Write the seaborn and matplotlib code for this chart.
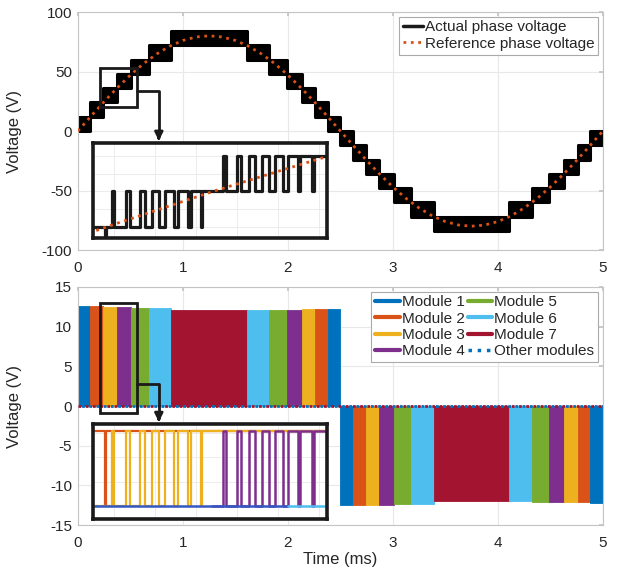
import matplotlib
matplotlib.use('Agg')
import matplotlib.pyplot as plt
from matplotlib.lines import Line2D
from matplotlib.patches import Rectangle
import seaborn as sns

sns.set_theme(style='white')
plt.rcParams['font.family'] = ['Liberation Sans', 'DejaVu Sans']
plt.rcParams['axes.unicode_minus'] = False

# ---- data ----
# staircase step boundaries (ms)
step_t = [0, 0.12, 0.24, 0.37, 0.51, 0.675, 0.89, 1.61, 1.825, 1.99, 2.13, 2.26, 2.38,
          2.5, 2.62, 2.74, 2.87, 3.01, 3.175, 3.39, 4.11, 4.325, 4.49, 4.63, 4.76, 4.88, 5.0]
# module that is switching in each step
step_module = [1, 2, 3, 4, 5, 6, 7, 6, 5, 4, 3, 2, 1,
               1, 2, 3, 4, 5, 6, 7, 6, 5, 4, 3, 2, 1]
# phase voltage band (V) the PWM toggles between in each step
phase_lo = [0, 12, 24, 36, 48, 60, 72, 60, 48, 36, 24, 12, 0,
            -12, -24, -36, -48, -60, -72, -84, -72, -60, -48, -36, -24, -12]
phase_hi = [12, 24, 36, 48, 60, 72, 84, 72, 60, 48, 36, 24, 12,
            0, -12, -24, -36, -48, -60, -72, -60, -48, -36, -24, -12, 0]
# module output voltage (V) in each step
module_v = [12.55, 12.55, 12.5, 12.45, 12.4, 12.3, 12.1, 12.15, 12.15, 12.15, 12.2, 12.2, 12.2,
            -12.5, -12.5, -12.45, -12.45, -12.4, -12.35, -12.0, -12.0, -12.1, -12.1, -12.15, -12.15, -12.2]

# reference phase voltage (V)
ref_t = [0, 0.125, 0.25, 0.375, 0.5, 0.625, 0.75, 0.875, 1.0, 1.125, 1.25, 1.375, 1.5, 1.625,
         1.75, 1.875, 2.0, 2.125, 2.25, 2.375, 2.5, 2.625, 2.75, 2.875, 3.0, 3.125, 3.25, 3.375,
         3.5, 3.625, 3.75, 3.875, 4.0, 4.125, 4.25, 4.375, 4.5, 4.625, 4.75, 4.875, 5.0]
ref_v = [0, 12.5, 24.7, 36.3, 47.0, 56.6, 64.7, 71.3, 76.1, 79.0, 80.0, 79.0, 76.1, 71.3,
         64.7, 56.6, 47.0, 36.3, 24.7, 12.5, 0, -12.5, -24.7, -36.3, -47.0, -56.6, -64.7, -71.3,
         -76.1, -79.0, -80.0, -79.0, -76.1, -71.3, -64.7, -56.6, -47.0, -36.3, -24.7, -12.5, 0]

# zoomed PWM detail of the phase voltage
pwm_t = [0.225, 0.2392, 0.2405, 0.2486, 0.2510, 0.2657, 0.2706, 0.2820, 0.2881, 0.2974,
         0.3056, 0.3129, 0.3231, 0.3284, 0.3406, 0.3438, 0.3561, 0.3581, 0.3837, 0.3866,
         0.4000, 0.4057, 0.4155, 0.4228, 0.4309, 0.4399, 0.4464, 0.4570, 0.4619, 0.4741,
         0.4773, 0.4916, 0.4944, 0.51]
pwm_v = [24, 12, 24, 36, 24, 36, 24, 36, 24, 36, 24, 36, 24, 36, 24, 36, 24, 36,
         48, 36, 48, 36, 48, 36, 48, 36, 48, 36, 48, 36, 48, 36, 48, 48]

# zoomed module voltages
m2_t = [0.225, 0.2392, 0.2405, 0.51]
m2_v = [12.3, 0, 12.3, 12.3]
m3_t = [0.225, 0.2486, 0.2510, 0.2657, 0.2706, 0.2820, 0.2881, 0.2974, 0.3056, 0.3129,
        0.3231, 0.3284, 0.3406, 0.3438, 0.3561, 0.3581, 0.51]
m3_v = [0, 12.3, 0, 12.3, 0, 12.3, 0, 12.3, 0, 12.3, 0, 12.3, 0, 12.3, 0, 12.3, 12.3]
m4_t = [0.37, 0.3837, 0.3866, 0.4000, 0.4057, 0.4155, 0.4228, 0.4309, 0.4399, 0.4464,
        0.4570, 0.4619, 0.4741, 0.4773, 0.4916, 0.4944, 0.51]
m4_v = [0, 12.3, 0, 12.3, 0, 12.3, 0, 12.3, 0, 12.3, 0, 12.3, 0, 12.3, 0, 12.3, 12.3]
base1_t = [0.225, 0.463]
base2_t = [0.463, 0.51]

module_names = ['Module 1', 'Module 2', 'Module 3', 'Module 4',
                'Module 5', 'Module 6', 'Module 7']
module_colors = ['#0072BD', '#D95319', '#EDB120', '#7E2F8E', '#77AC30', '#4DBEEE', '#A2142F']
ref_color = '#D95319'
text_c = '#262626'
frame_c = '#c4c4c4'
grid_c = '#e8e8e8'

fig = plt.figure(figsize=(6.28, 5.77), dpi=100)
ax1 = fig.add_axes([0.124, 0.5667, 0.836, 0.4125])
ax2 = fig.add_axes([0.124, 0.0901, 0.836, 0.4125])


def style_main(ax):
    ax.set_xlim(0, 5)
    ax.set_xticks([0, 1, 2, 3, 4, 5])
    ax.grid(True, color=grid_c, lw=0.8)
    ax.set_axisbelow(True)
    for s in ax.spines.values():
        s.set_color(frame_c)
        s.set_linewidth(0.8)
    ax.tick_params(direction='in', length=3, color=frame_c, labelsize=11,
                   labelcolor=text_c, top=True, right=True)
    ax.tick_params(axis='x', pad=8)
    ax.tick_params(axis='y', pad=4)
    ax.set_ylabel('Voltage (V)', fontsize=12, color=text_c)
    ax.yaxis.set_label_coords(-0.107, 0.5)


# ---- top: phase voltage ----
for i in range(len(step_module)):
    ax1.fill_between([step_t[i], step_t[i + 1]], phase_lo[i], phase_hi[i],
                     color='black', ec='black', lw=2.2, zorder=2)
sns.lineplot(x=ref_t, y=ref_v, ax=ax1, color=ref_color, lw=2, ls=':', zorder=3)
ax1.set_ylim(-100, 100)
ax1.set_yticks([-100, -50, 0, 50, 100])
style_main(ax1)
ax1.set_xlabel('')
h1 = [Line2D([], [], color='k', lw=2.5),
      Line2D([], [], color=ref_color, lw=2, ls=':')]
leg1 = ax1.legend(h1, ['Actual phase voltage', 'Reference phase voltage'], loc='upper right',
                  fontsize=11, frameon=True, fancybox=False, edgecolor='#aaaaaa', framealpha=1,
                  borderpad=0.25, labelspacing=0.15, handlelength=1.3, handletextpad=0.15,
                  borderaxespad=0.3)
leg1.get_frame().set_linewidth(0.8)

ax1.add_patch(Rectangle((0.21, 20.2), 0.352, 32.7, fill=False, ec='k', lw=2, zorder=4))
ax1.plot([0.562, 0.771, 0.771], [33.6, 33.6, -4], color='k', lw=2, zorder=4)
ax1.annotate('', xy=(0.771, -10.5), xytext=(0.771, -3),
             arrowprops=dict(arrowstyle='-|>', color='k', lw=2, mutation_scale=12), zorder=4)

# ---- bottom: module voltages ----
for i in range(len(step_module)):
    ax2.fill_between([step_t[i], step_t[i + 1]], 0, module_v[i],
                     color=module_colors[step_module[i] - 1], lw=0.6, zorder=2)
sns.lineplot(x=[0, 5], y=[0, 0], ax=ax2, color='#A2142F', lw=2, ls=(0, (1, 1.6)), zorder=3)
sns.lineplot(x=[0, 5], y=[0, 0], ax=ax2, color='#0072BD', lw=2, ls=(1.3, (1, 1.6)), zorder=3)
ax2.set_ylim(-15, 15)
ax2.set_yticks([-15, -10, -5, 0, 5, 10, 15])
style_main(ax2)
ax2.set_xlabel('Time (ms)', fontsize=12, color=text_c)
ax2.xaxis.set_label_coords(0.5, -0.115)

h2 = [Line2D([], [], color=c, lw=3) for c in module_colors]
h2.append(Line2D([], [], color='#0072BD', lw=2.5, ls=':'))
leg2 = ax2.legend(h2, module_names + ['Other modules'], loc='upper right', ncol=2,
                  fontsize=11, frameon=True, fancybox=False, edgecolor='#aaaaaa', framealpha=1,
                  borderpad=0.25, labelspacing=0.15, handlelength=1.6, handletextpad=0.15,
                  columnspacing=0.2, borderaxespad=0.3)
leg2.get_frame().set_linewidth(0.8)

ax2.add_patch(Rectangle((0.21, -0.9), 0.352, 13.9, fill=False, ec='k', lw=2, zorder=4))
ax2.plot([0.562, 0.771, 0.771], [2.77, 2.77, -1.5], color='k', lw=2, zorder=4)
ax2.annotate('', xy=(0.771, -2.35), xytext=(0.771, -1.2),
             arrowprops=dict(arrowstyle='-|>', color='k', lw=2, mutation_scale=12), zorder=4)


# ---- insets ----
def style_inset(ax, ylim, yt):
    ax.set_xlim(0.225, 0.51)
    ax.set_ylim(*ylim)
    ax.set_xticks([0.25, 0.3, 0.35, 0.4, 0.45, 0.5])
    ax.set_yticks(yt)
    ax.set_xticklabels([])
    ax.set_yticklabels([])
    ax.tick_params(length=0)
    ax.grid(True, color='#ececec', lw=0.7)
    ax.set_facecolor('white')
    for s in ax.spines.values():
        s.set_color('k')
        s.set_linewidth(2.6)


in1 = fig.add_axes([0.1481, 0.5875, 0.3726, 0.1646], zorder=5)
sns.lineplot(x=pwm_t, y=pwm_v, ax=in1, color='k', lw=2.3, drawstyle='steps-post',
             estimator=None, sort=False, solid_joinstyle='round')
sns.lineplot(x=ref_t, y=ref_v, ax=in1, color=ref_color, lw=2, ls=':')
style_inset(in1, (20.1, 52.4), [24, 30, 36, 42, 48])

in2 = fig.add_axes([0.1481, 0.1005, 0.3726, 0.1646], zorder=5)
sns.lineplot(x=m2_t, y=m2_v, ax=in2, color=module_colors[1], lw=1.6, drawstyle='steps-post',
             estimator=None, sort=False)
sns.lineplot(x=m3_t, y=m3_v, ax=in2, color=module_colors[2], lw=1.6, drawstyle='steps-post',
             estimator=None, sort=False)
sns.lineplot(x=m4_t, y=m4_v, ax=in2, color=module_colors[3], lw=1.8, drawstyle='steps-post',
             estimator=None, sort=False)
sns.lineplot(x=base1_t, y=[0, 0], ax=in2, color='#3358C4', lw=1.8)
sns.lineplot(x=base2_t, y=[0, 0], ax=in2, color=module_colors[5], lw=1.8)
style_inset(in2, (-2.1, 13.4), [0, 4, 8, 12])

fig.savefig('out.png', dpi=100)
